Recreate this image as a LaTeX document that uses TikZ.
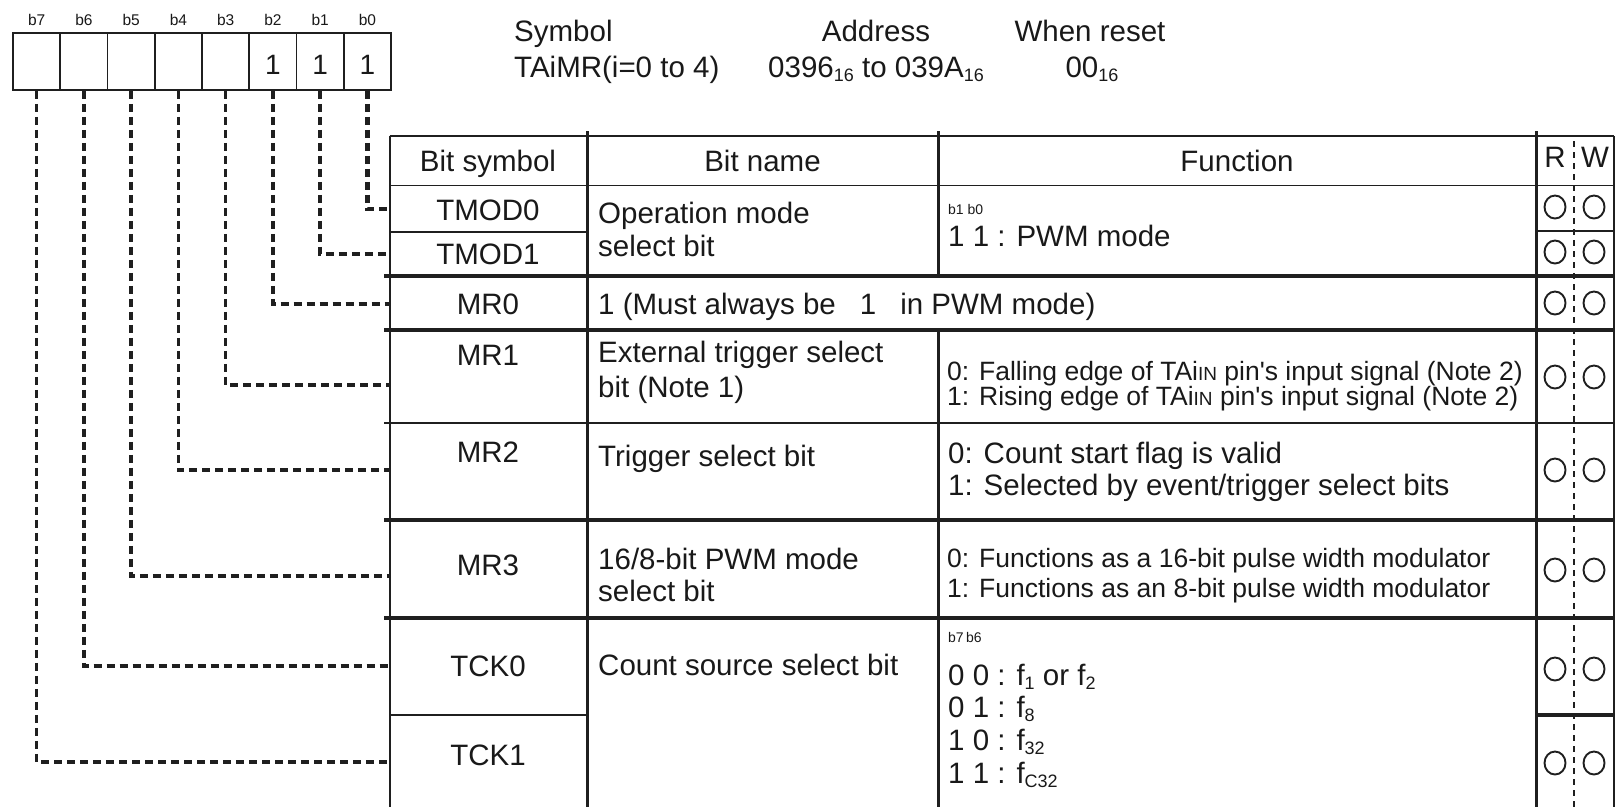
\documentclass[tikz,border=0pt]{standalone}
\usepackage{fontspec}
\setmainfont{Liberation Sans}
\usetikzlibrary{shapes.geometric}
\newcommand\lowsub[1]{\raisebox{-0.15em}{\fontsize{18}{18}\selectfont #1}}
\newcommand\smcap[1]{{\fontsize{19}{19}\selectfont #1}}
\begin{document}
\begin{tikzpicture}[x=1pt,y=-1pt,
  every node/.style={inner sep=0pt, text=black!90},
  fA/.style={font=\fontsize{29.5}{34}\selectfont, text height=21pt, text depth=0pt},
  fB/.style={font=\fontsize{26.5}{30}\selectfont, text height=19pt, text depth=0pt},
  fT/.style={font=\fontsize{14}{16}\selectfont, text height=10pt, text depth=0pt},
  fL/.style={font=\fontsize{15.5}{17}\selectfont, text height=11pt, text depth=0pt},
  fD/.style={font=\fontsize{28}{32}\selectfont, text height=20pt, text depth=0pt},
  bitcell/.style={draw=black!88, line width=1.6pt, minimum width=47.25pt, minimum height=57pt},
  lnthin/.style={draw=black!88, line width=1.5pt},
  lnmid/.style={draw=black!88, line width=2.7pt},
  lnthick/.style={draw=black!88, line width=3.6pt},
  rwdash/.style={draw=black!88, line width=1.3pt, dash pattern=on 6pt off 5pt},
  conn/.style={draw=black!88, line width=3.3pt, dash pattern=on 8pt off 5pt},
  connbold/.style={conn, line width=4.3pt},
  rwmark/.style={draw=black!88, line width=1.9pt, ellipse, minimum width=21pt, minimum height=23pt},
]
\useasboundingbox (0,0) rectangle (1616,807);

% ---- register bits
\foreach \i in {0,...,7} {
  \node[bitcell] (c\i) at ({13+47.25*(7-\i)+23.625},61.5) {};
  \node[fL] (l\i) at ({13+47.25*(7-\i)+23.625},20) {b\i};
}
\foreach \i in {0,1,2} {
  \node[fD] (d\i) at ({13+47.25*(7-\i)+23.625},64) {1};
}

% ---- header texts
\node[fA,anchor=west] (symA) at (514,31) {Symbol};
\node[fA,anchor=west] (symB) at (514,67) {TAiMR(i=0 to 4)};
\node[fA] (adA) at (876,31) {Address};
\node[fA] (adB) at (876,67) {0396\lowsub{16} to 039A\lowsub{16}};
\node[fA] (rsA) at (1090,31) {When reset};
\node[fA] (rsB) at (1092,67) {00\lowsub{16}};

% ---- table lines
\draw[lnthin] (389.5,136) -- (1614,136);
\draw[lnthin] (389.5,185.5) -- (1614,185.5);
\draw[lnthin] (389.5,232) -- (587,232);
\draw[lnmid] (1536,231) -- (1614,231);
\draw[lnthick] (384,276) -- (1614,276);
\draw[lnthick] (384,330) -- (1614,330);
\draw[lnmid] (384,423) -- (1614,423);
\draw[lnthick] (384,520) -- (1614,520);
\draw[lnthick] (384,618) -- (1614,618);
\draw[lnthin] (389.5,715) -- (587,715);
\draw[lnthick] (1536,715) -- (1614,715);

\draw[lnthin, line width=2pt] (389.5,136) -- (389.5,807);
\draw[lnmid, line width=3pt] (587,131) -- (587,807);
\draw[lnmid, line width=3pt] (938,131) -- (938,276);
\draw[lnmid, line width=3pt] (938,330) -- (938,807);
\draw[lnmid, line width=3pt] (1536,131) -- (1536,807);
\draw[rwdash] (1574,141) -- (1574,807);
\draw[lnthin] (1614,136) -- (1614,807);

% ---- header row
\node[fA] (hsym) at (488,161) {Bit symbol};
\node[fA] (hname) at (762.5,161) {Bit name};
\node[fA] (hfun) at (1237,161) {Function};
\node[fA] (hR) at (1555,157) {R};
\node[fA] (hW) at (1595,157) {W};

% ---- rows
\node[fA] (sT0) at (488,210) {TMOD0};
\node[fA] (sT1) at (488,254) {TMOD1};
\node[fA,anchor=west] (nOp1) at (598,213) {Operation mode};
\node[fA,anchor=west] (nOp2) at (598,246) {select bit};
\node[fT,anchor=west] (fB10) at (948,209) {b1 b0};
\node[fA,anchor=west] (fPWM) at (948,236) {1 1 : PWM mode};

\node[fA] (sM0) at (488,304) {MR0};
\node[fA,anchor=west] (nM0) at (598,304) {1 (Must always be\hspace{24pt}1\hspace{24pt}in PWM mode)};

\node[fA] (sM1) at (488,355) {MR1};
\node[fA,anchor=west] (nM1a) at (598,352) {External trigger select};
\node[fA,anchor=west] (nM1b) at (598,387) {bit (Note 1)};
\node[fB,anchor=west] (fM1a) at (947,371) {0: Falling edge of TAi\smcap{IN} pin\textquotesingle s input signal (Note 2)};
\node[fB,anchor=west] (fM1b) at (947,396) {1: Rising edge of TAi\smcap{IN} pin\textquotesingle s input signal (Note 2)};

\node[fA] (sM2) at (488,452) {MR2};
\node[fA,anchor=west] (nM2) at (598,456) {Trigger select bit};
\node[fA,anchor=west] (fM2a) at (948,453) {0: Count start flag is valid};
\node[fA,anchor=west] (fM2b) at (948,485) {1: Selected by event/trigger select bits};

\node[fA] (sM3) at (488,565) {MR3};
\node[fA,anchor=west] (nM3a) at (598,559) {16/8-bit PWM mode};
\node[fA,anchor=west] (nM3b) at (598,591) {select bit};
\node[fB,anchor=west] (fM3a) at (947,558) {0: Functions as a 16-bit pulse width modulator};
\node[fB,anchor=west] (fM3b) at (947,588) {1: Functions as an 8-bit pulse width modulator};

\node[fA] (sK0) at (488,666) {TCK0};
\node[fA] (sK1) at (488,755) {TCK1};
\node[fA,anchor=west] (nK) at (598,665) {Count source select bit};
\node[fT,anchor=west] (fK0) at (948,637) {b7\,b6};
\node[fA,anchor=west] (fK1) at (948,675) {0 0 : f\lowsub{1} or f\lowsub{2}};
\node[fA,anchor=west] (fK2) at (948,707) {0 1 : f\lowsub{8}};
\node[fA,anchor=west] (fK3) at (948,740) {1 0 : f\lowsub{32}};
\node[fA,anchor=west] (fK4) at (948,773) {1 1 : f\lowsub{C32}};

% ---- R/W marks
\foreach \y [count=\k] in {207,252,303,377,470,570,669,763} {
  \node[rwmark] (rd\k) at (1555,\y) {};
  \node[rwmark] (wr\k) at (1594,\y) {};
}

% ---- connectors
\foreach \i/\ty/\st in {0/209/connbold,1/254/conn,2/304/connbold,3/385/conn,4/470/conn,5/576/conn,6/666/conn,7/762/conn} {
  \coordinate (t\i) at (389.5,\ty);
  \draw[\st] (c\i.south) |- (t\i);
}
\end{tikzpicture}
\end{document}
